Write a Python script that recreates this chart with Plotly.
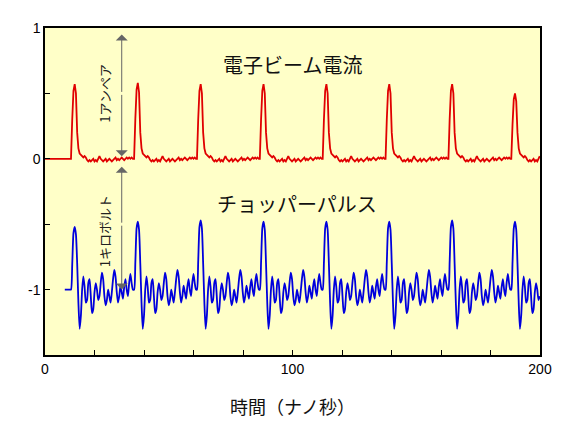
import plotly.graph_objects as go

# pulse onset times (ns)
onsets = [10.5, 36.0, 61.4, 86.8, 112.2, 137.6, 163.0, 188.4]
red_peaks = [0.57, 0.58, 0.57, 0.57, 0.57, 0.57, 0.57, 0.50]
blue_peaks = [-0.52, -0.48, -0.47, -0.48, -0.48, -0.48, -0.47, -0.48]

# one cycle, 0.5 ns step, relative to onset
red_cycle = [0.0, 0.30, 0.52, 0.57, 0.50, 0.20, 0.08, 0.04, 0.03, 0.02, 0.01, 0.02,
             0.01, -0.01, -0.02, -0.01, -0.02, -0.01, 0.0, -0.02, -0.01, -0.02, 0.0,
             0.02, 0.0, -0.01, -0.02, -0.01, 0.0, -0.02, -0.01, 0.0, -0.01, -0.02,
             -0.01, 0.0, 0.01, -0.01, 0.0, -0.01, 0.0, 0.01, 0.0, -0.01, 0.0, 0.01,
             0.0, 0.01, 0.0, 0.01, 0.0]
blue_cycle = [-1.0, -0.8, -0.55, -0.5, -0.56, -0.8, -1.1, -1.3, -1.2, -1.0,
              -0.9, -0.98, -1.1, -1.08, -0.95, -0.92, -1.05, -1.18, -1.15, -1.02,
              -0.95, -1.0, -1.08, -1.05, -0.95, -0.87, -0.92, -1.05, -1.12, -1.08,
              -1.0, -1.05, -1.1, -1.02, -0.92, -0.85, -0.9, -1.02, -1.1, -1.05,
              -0.97, -1.02, -1.07, -0.98, -0.92, -1.0, -1.05, -0.95, -0.88, -0.95, -1.0]

red_t, red_v = [0.0, 10.0], [0.0, 0.0]
blue_t, blue_v = [8.0, 9.5, 10.0], [-1.0, -1.0, -1.0]
for i, t0 in enumerate(onsets):
    n = len(red_cycle) if i == len(onsets) - 1 else int(round((onsets[i + 1] - t0) / 0.5))
    n = min(n, len(red_cycle))
    for k in range(n):
        t = t0 + 0.5 * k
        if t > 200:
            break
        r = red_cycle[k]
        b = blue_cycle[k]
        if 1 <= k <= 4:
            r = r * red_peaks[i] / 0.57
            b = -1 + (b + 1) * (blue_peaks[i] + 1) / 0.5
        red_t.append(t); red_v.append(r)
        blue_t.append(t); blue_v.append(b)

fig = go.Figure()
fig.add_trace(go.Scatter(x=red_t, y=red_v, mode="lines", line=dict(color="#e00000", width=1.8)))
fig.add_trace(go.Scatter(x=blue_t, y=blue_v, mode="lines",
                         line=dict(color="#0000dd", width=1.8, shape="spline", smoothing=0.6)))

font = "Noto Sans CJK JP"
arrow = dict(showarrow=True, arrowhead=1, arrowsize=2, arrowwidth=1, arrowcolor="#666",
             axref="x", ayref="y", xref="x", yref="y", text="")
for y0, y1 in [(0.5, 0.95), (0.5, 0.02), (-0.5, -0.06), (-0.5, -1.0)]:
    fig.add_annotation(x=31, y=y1, ax=31, ay=y0, **arrow)
fig.add_annotation(x=24, y=0.5, text="1アンペア", textangle=-90, showarrow=False,
                   font=dict(family=font, size=13, color="#222"))
fig.add_annotation(x=24, y=-0.55, text="1キロボルト", textangle=-90, showarrow=False,
                   font=dict(family=font, size=13, color="#222"))
fig.add_annotation(x=100, y=0.72, text="電子ビーム電流", showarrow=False,
                   font=dict(family=font, size=20, color="#111"))
fig.add_annotation(x=102, y=-0.34, text="チョッパーパルス", showarrow=False,
                   font=dict(family=font, size=20, color="#111"))

axis = dict(showgrid=False, zeroline=False, showline=True, linecolor="black", mirror=True,
            ticks="inside", ticklen=5, tickcolor="black", linewidth=1.5)
fig.update_xaxes(range=[0, 200], tickvals=list(range(0, 201, 20)),
                 ticktext=["0", "", "", "", "", "100", "", "", "", "", "200"],
                 title=dict(text="時間（ナノ秒）", font=dict(family=font, size=18, color="#111"), standoff=26),
                 **axis)
fig.update_yaxes(range=[-1.5, 1.0], tickvals=[-1.5, -1, -0.5, 0, 0.5, 1],
                 ticktext=["", "-1", "", "0", "", "1"], **axis)
fig.update_layout(width=570, height=433, margin=dict(l=37, r=38, t=15, b=86),
                  showlegend=False, plot_bgcolor="#ffffc8", paper_bgcolor="white",
                  font=dict(family="Arial", size=14, color="black"))
fig.write_html("out.html")
